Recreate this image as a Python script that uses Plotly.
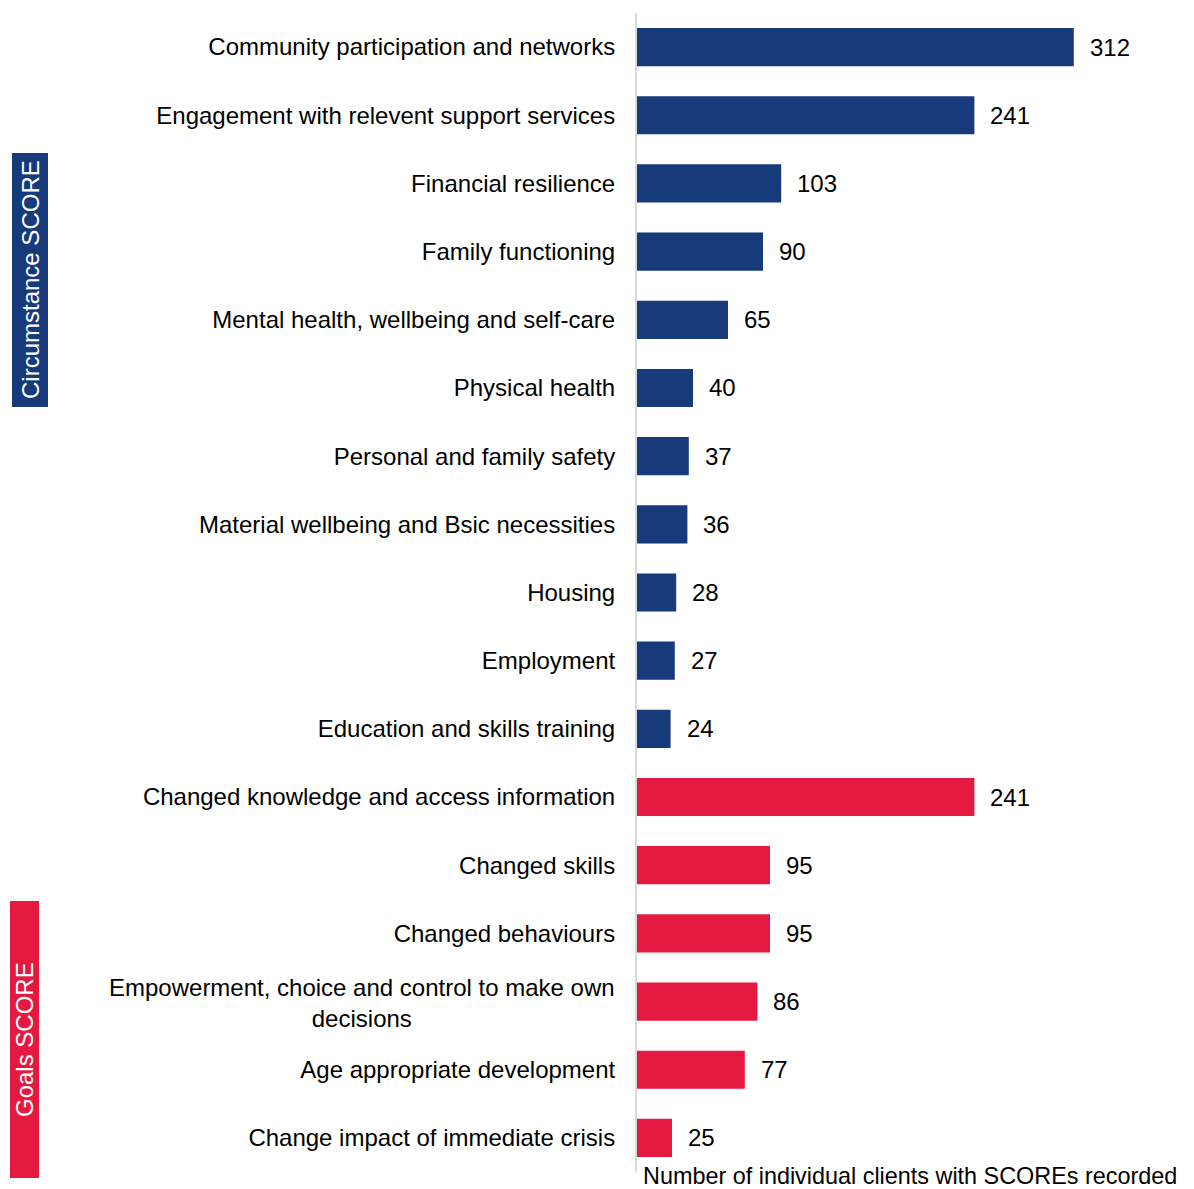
import plotly.graph_objects as go

categories = [
    "Community participation and networks",
    "Engagement with relevent support services",
    "Financial resilience",
    "Family functioning",
    "Mental health, wellbeing and self-care",
    "Physical health",
    "Personal and family safety",
    "Material wellbeing and Bsic necessities",
    "Housing",
    "Employment",
    "Education and skills training",
    "Changed knowledge and access information",
    "Changed skills",
    "Changed behaviours",
    "Empowerment, choice and control to make own<br>decisions",
    "Age appropriate development",
    "Change impact of immediate crisis",
]
values = [312, 241, 103, 90, 65, 40, 37, 36, 28, 27, 24, 241, 95, 95, 86, 77, 25]
groups = ["Circumstance SCORE"] * 11 + ["Goals SCORE"] * 6
group_names = ["Circumstance SCORE", "Goals SCORE"]
x_title = "Number of individual clients with SCOREs recorded"

OFF = 8  # page body margin
W, H = 1186, 1181
NAVY = "#173A7B"
RED = "#E4193F"
group_colors = {"Circumstance SCORE": NAVY, "Goals SCORE": RED}
FONT = "Arial, Liberation Sans, sans-serif"
FS = 24


def px(xp):
    return (xp - OFF) / W


def py(yp):
    return 1 - (yp - OFF) / H


# plot area in page pixels
PL, PR, PT, PB = 637, 1169, 13, 1172

ids = list(range(len(categories)))
fig = go.Figure()
fig.add_trace(go.Bar(
    x=values, y=ids, orientation="h",
    marker=dict(color=[group_colors[g] for g in groups], line=dict(width=0)),
    hoverinfo="x+y",
))

ticktext = [("" if "<br>" in c else c) for c in categories]

annotations = []
for i, (c, v) in enumerate(zip(categories, values)):
    annotations.append(dict(x=v, y=i, xref="x", yref="y", text=str(v),
                            showarrow=False, xanchor="left", xshift=14,
                            font=dict(size=FS, color="#000000", family=FONT)))
    if "<br>" in c:
        annotations.append(dict(x=px(617), y=i, xref="paper", yref="y",
                                text=c, showarrow=False, xanchor="right",
                                align="center", yshift=-1,
                                font=dict(size=FS, color="#000000", family=FONT)))

annotations.append(dict(x=px(641), y=0, xref="paper", yref="paper",
                        text=x_title, showarrow=False, xanchor="left",
                        yanchor="bottom", yshift=-2,
                        font=dict(size=23.4, color="#000000", family=FONT)))

# side group boxes
boxes = {"Circumstance SCORE": (12, 48, 153, 407), "Goals SCORE": (10, 39, 901, 1178)}
shapes = []
for g in group_names:
    x0, x1, y0, y1 = boxes[g]
    shapes.append(dict(type="rect", xref="paper", yref="paper",
                       x0=px(x0), x1=px(x1), y0=py(y0), y1=py(y1),
                       fillcolor=group_colors[g], line=dict(width=0), layer="below"))
    annotations.append(dict(x=px((x0 + x1) / 2), y=py((y0 + y1) / 2),
                            xref="paper", yref="paper", text=g, textangle=-90,
                            showarrow=False, xanchor="center", yanchor="middle",
                            font=dict(size=FS, color="#ffffff", family=FONT)))

fig.update_layout(
    width=W, height=H,
    margin=dict(l=0, r=0, t=0, b=0),
    paper_bgcolor="white", plot_bgcolor="white",
    bargap=0.44,
    showlegend=False,
    font=dict(family=FONT, size=FS, color="#000000"),
    xaxis=dict(domain=[px(PL), px(PR)], range=[0, (PR - PL) / 1.4], showgrid=False,
               zeroline=False, showticklabels=False, ticks="", showline=False),
    yaxis=dict(domain=[py(PB), py(PT)], tickmode="array", tickvals=ids,
               ticktext=ticktext, autorange="reversed", showgrid=False,
               zeroline=False, ticks="", ticklabelstandoff=15,
               showline=True, linecolor="#d9d9d9", linewidth=2,
               tickfont=dict(size=FS, color="#000000", family=FONT)),
    annotations=annotations,
    shapes=shapes,
)

fig.write_html("out.html")
